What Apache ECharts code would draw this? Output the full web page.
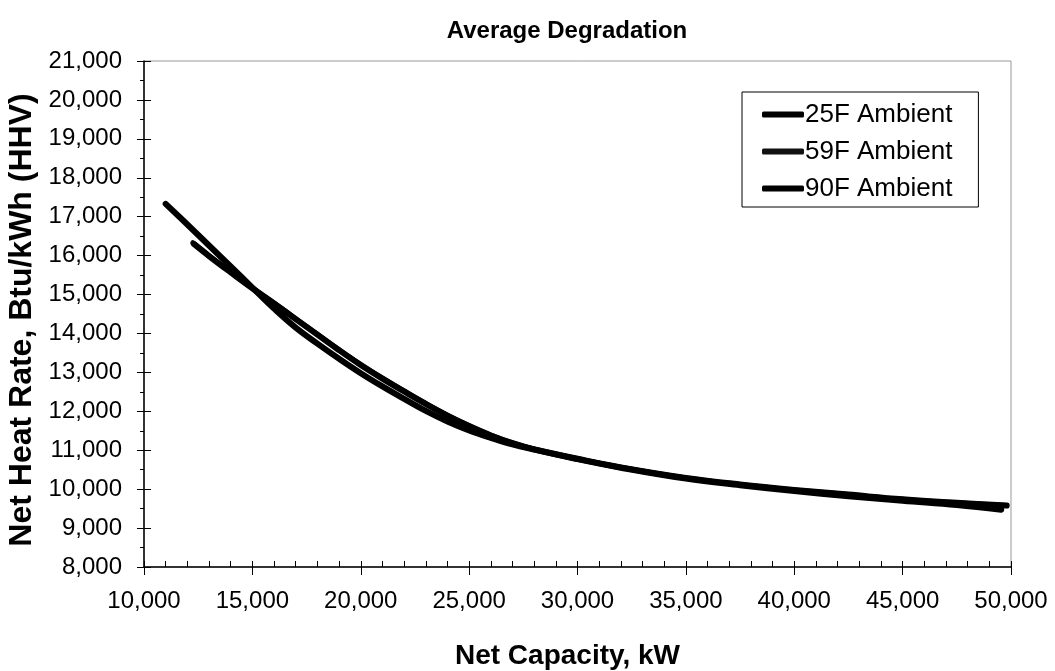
<!DOCTYPE html>
<html>
<head>
<meta charset="utf-8">
<script src="https://cdn.jsdelivr.net/npm/echarts@6/dist/echarts.min.js"></script>
<style>
html,body{margin:0;padding:0;background:#fff;}
#c{width:1055px;height:671px;}
</style>
</head>
<body>
<div id="c"></div>
<script>
// Data
const seriesNames = ['25F Ambient', '59F Ambient', '90F Ambient'];

const cap25 = [11000, 12000, 13000, 14000, 15000, 16000, 17000, 18000, 19000, 20000, 21000, 22000, 23000, 24000, 25000, 26000, 27000, 28000, 30000, 32000, 35000, 37500, 40000, 42500, 45000, 47500, 49800];
const hr25  = [17330, 16800, 16260, 15720, 15180, 14640, 14150, 13740, 13350, 12980, 12640, 12320, 12010, 11740, 11510, 11320, 11150, 11020, 10780, 10560, 10290, 10120, 9980, 9860, 9740, 9650, 9580];

const cap59 = [12250, 13000, 14000, 15000, 16000, 17000, 18000, 19000, 20000, 21000, 22000, 23000, 24000, 25000, 26000, 27000, 28000, 30000, 32000, 35000, 37500, 40000, 42500, 45000, 47500, 49800];
const hr59  = [16330, 16000, 15580, 15170, 14780, 14380, 13980, 13580, 13200, 12850, 12520, 12200, 11900, 11630, 11390, 11190, 11030, 10780, 10560, 10290, 10120, 9980, 9860, 9740, 9650, 9580];

const cap90 = [12300, 13000, 14000, 15000, 16000, 17000, 18000, 19000, 20000, 21000, 22000, 23000, 24000, 25000, 26000, 27000, 28000, 30000, 32000, 35000, 37500, 40000, 42500, 45000, 47500, 49550];
const hr90  = [16300, 15990, 15570, 15160, 14770, 14370, 13970, 13570, 13190, 12840, 12510, 12190, 11890, 11620, 11380, 11180, 11020, 10770, 10550, 10270, 10100, 9950, 9820, 9700, 9590, 9470];

const xTicks = {min: 10000, max: 50000, interval: 5000};
const yTicks = {min: 8000, max: 21000, interval: 1000};

const FONT = "'Liberation Sans', Arial, sans-serif";
const fmt = v => v.toLocaleString('en-US');
const pairs = (xs, ys) => xs.map((x, i) => [x, ys[i]]);

const chart = echarts.init(document.getElementById('c'), null, {renderer: 'canvas'});

const lineBase = {type: 'line', showSymbol: false, symbol: 'none', smooth: 0.4, xAxisIndex: 0, yAxisIndex: 0, animation: false};

chart.setOption({
  backgroundColor: '#fff',
  animation: false,
  title: {
    text: 'Average Degradation',
    left: 562, top: 14, textAlign: 'center',
    textStyle: {fontFamily: FONT, fontWeight: 'bold', fontSize: 24, color: '#000'}
  },
  legend: {
    orient: 'vertical',
    left: 742, top: 92,
    padding: [9, 26, 5, 20],
    itemGap: 10,
    itemWidth: 42, itemHeight: 6,
    icon: 'roundRect',
    borderColor: '#000', borderWidth: 1,
    backgroundColor: '#fff',
    textStyle: {fontFamily: FONT, fontSize: 26, color: '#000', lineHeight: 27, padding: [0, 0, 0, -4]},
    data: seriesNames
  },
  grid: {left: 144, right: 44, top: 61, bottom: 104, show: true, borderColor: '#999', borderWidth: 1,
    containLabel: false, outerBoundsMode: 'none'},
  xAxis: [{
    type: 'value', min: xTicks.min, max: xTicks.max, interval: xTicks.interval,
    name: 'Net Capacity, kW', nameLocation: 'middle', nameGap: 75,
    nameTextStyle: {fontFamily: FONT, fontWeight: 'bold', fontSize: 28, color: '#000', padding: [0, 20, 0, 0]},
    axisLine: {lineStyle: {color: '#000', width: 1.5}},
    axisTick: {show: true, length: 8, lineStyle: {color: '#000'}},
    minorTick: {show: false},
    splitLine: {show: false},
    axisLabel: {fontFamily: FONT, fontSize: 24, color: '#000', margin: 22, formatter: fmt}
  }, {
    type: 'value', min: xTicks.min, max: xTicks.max, interval: xTicks.interval, position: 'bottom',
    axisLine: {show: false},
    axisTick: {show: true, inside: true, length: 6, lineStyle: {color: '#000'}},
    minorTick: {show: true, splitNumber: 5, length: 6, lineStyle: {color: '#000'}},
    splitLine: {show: false}, axisLabel: {show: false}
  }],
  yAxis: [{
    type: 'value', min: yTicks.min, max: yTicks.max, interval: yTicks.interval,
    name: 'Net Heat Rate, Btu/kWh (HHV)', nameLocation: 'middle', nameGap: 96,
    nameTextStyle: {fontFamily: FONT, fontWeight: 'bold', fontSize: 32, color: '#000', padding: [0, 12, 0, 0]},
    axisLine: {lineStyle: {color: '#000', width: 1.5}},
    axisTick: {show: true, length: 7, lineStyle: {color: '#000'}},
    minorTick: {show: true, splitNumber: 2, length: 4, lineStyle: {color: '#000'}},
    splitLine: {show: false},
    axisLabel: {fontFamily: FONT, fontSize: 24, color: '#000', margin: 22, formatter: fmt}
  }, {
    type: 'value', min: yTicks.min, max: yTicks.max, interval: yTicks.interval, position: 'left',
    axisLine: {show: false},
    axisTick: {show: true, inside: true, length: 7, lineStyle: {color: '#000'}},
    splitLine: {show: false}, axisLabel: {show: false}
  }],
  series: [
    Object.assign({}, lineBase, {name: seriesNames[0], data: pairs(cap25, hr25), z: 3,
      itemStyle: {color: '#000'}, lineStyle: {color: '#000', width: 6, cap: 'round', join: 'round'}}),
    Object.assign({}, lineBase, {name: seriesNames[1], data: pairs(cap59, hr59), z: 2,
      itemStyle: {color: '#111'}, lineStyle: {color: '#111', width: 5, cap: 'round', join: 'round'}}),
    Object.assign({}, lineBase, {name: seriesNames[2], data: pairs(cap90, hr90), z: 2,
      itemStyle: {color: '#000'}, lineStyle: {color: '#000', width: 6, cap: 'round', join: 'round'}})
  ]
});
</script>
</body>
</html>
